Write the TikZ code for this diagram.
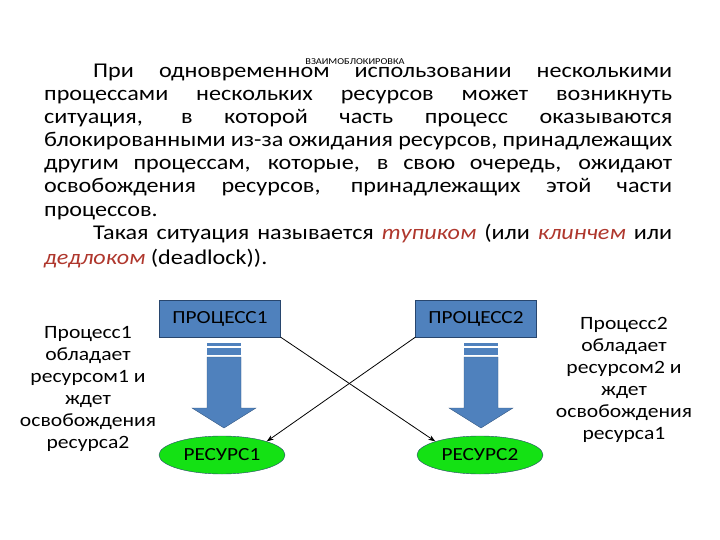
\documentclass[tikz,border=0pt]{standalone}
\usepackage{fontspec}
\setmainfont{Carlito}[FakeStretch=1.15]
\usetikzlibrary{shapes.geometric,arrows.meta}
\definecolor{boxblue}{RGB}{79,129,189}
\definecolor{boxedge}{RGB}{40,70,110}
\definecolor{resgreen}{RGB}{20,225,20}
\definecolor{accent}{RGB}{175,55,45}
\tikzset{
  line/.style={anchor=base west,inner sep=0pt,font=\fontsize{21}{23}\selectfont},
  procbox/.style={draw=boxedge,fill=boxblue,minimum width=121pt,minimum height=37pt,font=\fontsize{18.5}{20}\selectfont,inner sep=0pt},
  resell/.style={ellipse,draw=boxedge,fill=resgreen,minimum width=126pt,minimum height=38pt,font=\fontsize{18.5}{20}\selectfont,inner sep=0pt},
  blockarrow/.style={fill=boxblue,draw=boxblue!70!black,line width=0.4pt},
  side/.style={align=center,font=\fontsize{18.8}{22}\selectfont,inner sep=0pt},
  thin/.style={-{Stealth[length=7pt,width=5pt]},line width=0.8pt}
}
\newcommand{\jl}[1]{\makebox[628pt][s]{#1}}
\newcommand{\hl}[1]{\textcolor{accent}{\itshape #1}}
\begin{document}
\begin{tikzpicture}[x=1pt,y=-1pt]
\useasboundingbox (0,0) rectangle (720,540);
\node[font=\fontsize{9}{10}\selectfont,inner sep=0pt] (title) at (355,62) {ВЗАИМОБЛОКИРОВКА};
\node[line] (l1) at (93,78) {\makebox[579pt][s]{При одновременном использовании несколькими}};
\node[line] (l2) at (44,101) {\jl{процессами нескольких ресурсов может возникнуть}};
\node[line] (l3) at (44,124) {\jl{ситуация, в которой часть процесс оказываются}};
\node[line] (l4) at (44,147) {\jl{блокированными из-за ожидания ресурсов, принадлежащих}};
\node[line] (l5) at (44,170) {\jl{другим процессам, которые, в свою очередь, ожидают}};
\node[line] (l6) at (44,193) {\jl{освобождения ресурсов, принадлежащих этой части}};
\node[line] (l7) at (44,216) {процессов.};
\node[line] (l8) at (93,240) {\makebox[579pt][s]{Такая ситуация называется \hl{тупиком} (или \hl{клинчем} или}};
\node[line] (l9) at (44,264) {\hl{дедлоком} (deadlock)).};

\node[procbox] (p1) at (220,318.5) {ПРОЦЕСС1};
\node[procbox] (p2) at (476,318.5) {ПРОЦЕСС2};
\node[resell] (r1) at (222,455) {РЕСУРС1};
\node[resell] (r2) at (480,455) {РЕСУРС2};

\foreach \dx in {0,257}{
  \begin{scope}[xshift=\dx]
  \fill[boxblue] (207,342.5) rectangle (241,345.5);
  \fill[boxblue] (207,348) rectangle (241,355);
  \draw[blockarrow] (207,357) -- (241,357) -- (241,408) -- (256,408) -- (224,428) -- (192,408) -- (207,408) -- cycle;
  \end{scope}
}
\draw[thin] (p1.south east) -- (r2.north west);
\draw[thin] (p2.south west) -- (r1.north east);

\node[side] (s1) at (88,389) {Процесс1\\обладает\\ресурсом1 и\\ждет\\освобождения\\ресурса2};
\node[side] (s2) at (624,380) {Процесс2\\обладает\\ресурсом2 и\\ждет\\освобождения\\ресурса1};
\end{tikzpicture}
\end{document}
